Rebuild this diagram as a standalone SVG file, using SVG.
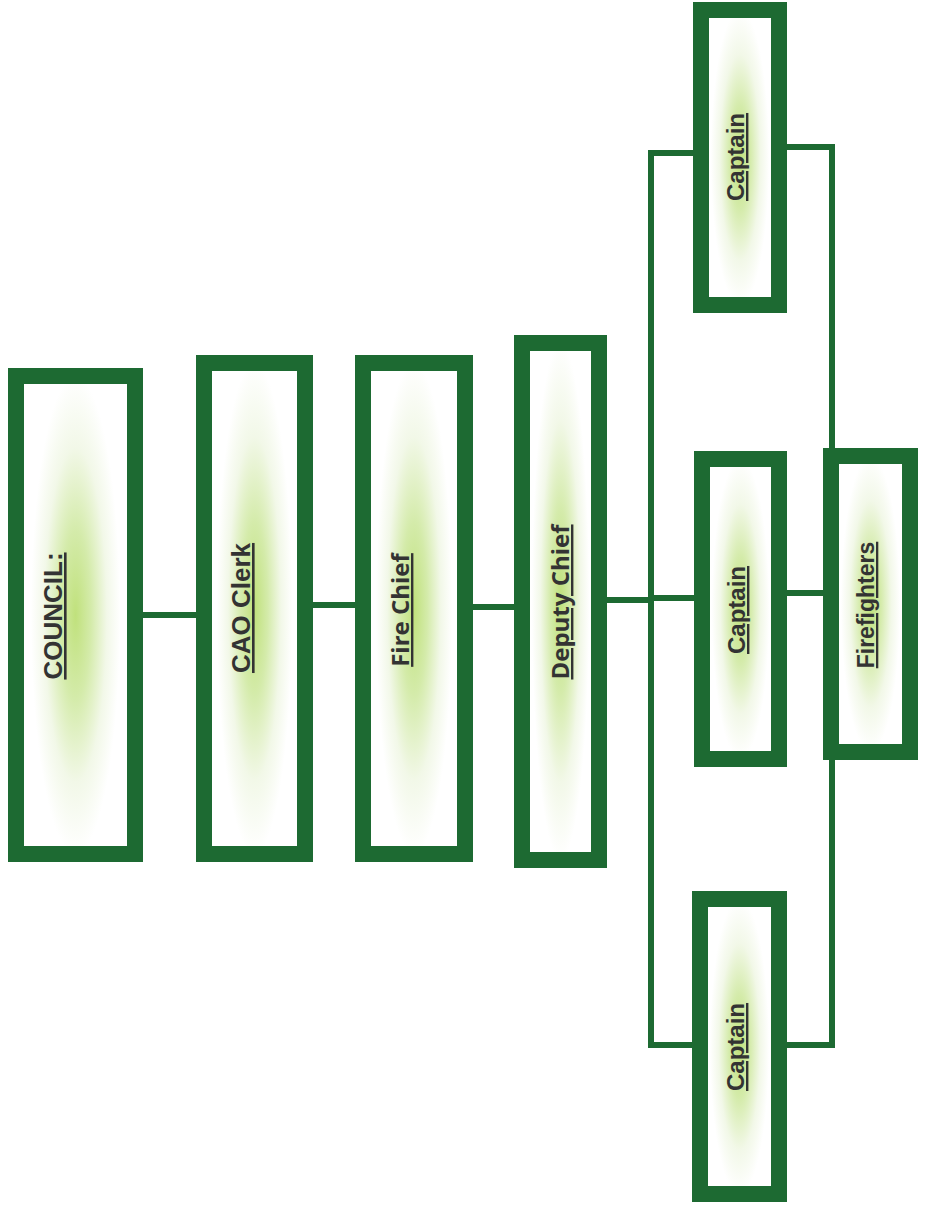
<svg xmlns="http://www.w3.org/2000/svg" width="926" height="1208" viewBox="0 0 926 1208">
<defs>
<radialGradient id="g" cx="0.5" cy="0.5" r="0.5" gradientTransform="translate(0.5,0.5) scale(0.75,1) translate(-0.5,-0.5)">
<stop offset="0" stop-color="#c0e17c"/>
<stop offset="0.35" stop-color="#d4ebaa"/>
<stop offset="0.7" stop-color="#f2f8e8"/>
<stop offset="1" stop-color="#ffffff"/>
</radialGradient>
</defs>
<style>
.box{fill:url(#g);stroke:#1d6a32;stroke-width:16}
.ln{fill:none;stroke:#1d6a32;stroke-width:6}
.t{font-family:"Liberation Sans",Arial,sans-serif;font-weight:bold;fill:#333333;text-decoration:underline;text-anchor:middle}
.o{font-family:"Open Sans","Liberation Sans",sans-serif}
</style>
<rect width="926" height="1208" fill="#ffffff"/>
<g id="connectors">
<path class="ln" d="M143,615 H196"/>
<path class="ln" d="M313,605 H355"/>
<path class="ln" d="M473,607 H514"/>
<path class="ln" d="M607,600 H651"/>
<path class="ln" d="M693,153 H651 V1045 H692"/>
<path class="ln" d="M651,598 H694"/>
<path class="ln" d="M787,593 H823"/>
<path class="ln" d="M787,147 H832 V448"/>
<path class="ln" d="M832,760 V1045 H787"/>
</g>
<g id="council">
<rect class="box" x="16" y="376" width="119" height="478"/>
<text class="t" font-size="26" transform="translate(62,616) rotate(-90)">COUNCIL:</text>
</g>
<g id="cao-clerk">
<rect class="box" x="204" y="363" width="101" height="491"/>
<text class="t" font-size="26" transform="translate(250,608) rotate(-90)">CAO Clerk</text>
</g>
<g id="fire-chief">
<rect class="box" x="363" y="363" width="102" height="491"/>
<text class="t o" font-size="24" transform="translate(409,610) rotate(-90)">Fire Chief</text>
</g>
<g id="deputy-chief">
<rect class="box" x="522" y="343" width="77" height="517"/>
<text class="t o" font-size="24" transform="translate(569,602) rotate(-90)">Deputy Chief</text>
</g>
<g id="captain-1">
<rect class="box" x="701" y="10" width="78" height="295"/>
<text class="t" font-size="24" transform="translate(744,157) rotate(-90)">Captain</text>
</g>
<g id="captain-2">
<rect class="box" x="702" y="459" width="77" height="300"/>
<text class="t" font-size="24" transform="translate(745,610) rotate(-90)">Captain</text>
</g>
<g id="captain-3">
<rect class="box" x="700" y="899" width="79" height="295"/>
<text class="t" font-size="24" transform="translate(744,1047) rotate(-90)">Captain</text>
</g>
<g id="firefighters">
<rect class="box" x="831" y="456" width="79" height="296"/>
<text class="t" font-size="23" transform="translate(874,605) rotate(-90)">Firefighters</text>
</g>
</svg>
